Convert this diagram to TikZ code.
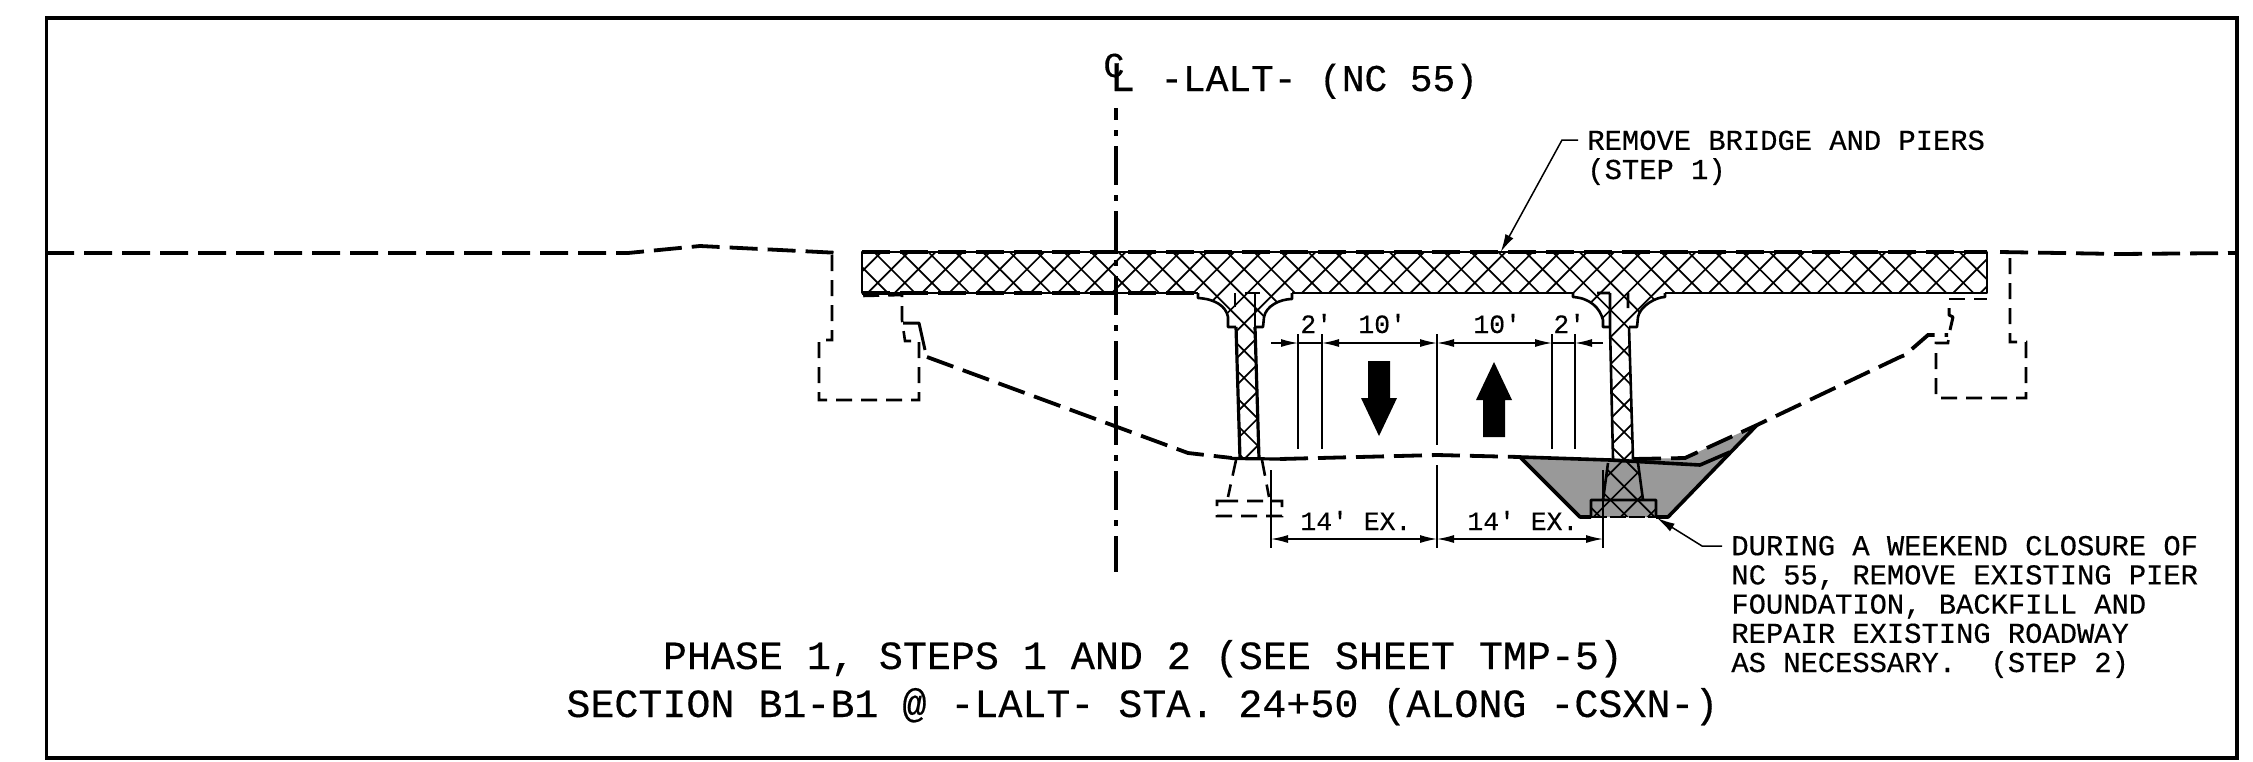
\documentclass[tikz,border=0pt]{standalone}
\usepackage{fontspec}
\setmainfont[RawFeature={embolden=0.4}]{Liberation Mono}
\usetikzlibrary{arrows.meta}
\definecolor{fillgray}{gray}{0.6}
\tikzset{
 px/.style={line width=#1*0.5pt},
 frameline/.style={px=3.5},
 outline/.style={px=2.6,line join=round},
 hatchline/.style={px=1.7},
 groundline/.style={px=3.8,dash pattern=on 14pt off 5pt},
 hiddenline/.style={px=2.6,dash pattern=on 8pt off 4.5pt},
 solidthick/.style={px=3.6,line join=round},
 dimline/.style={px=1.3,{Latex[length=8.5pt,width=4pt]}-{Latex[length=8.5pt,width=4pt]}},
 dimright/.style={px=1.3,-{Latex[length=8.5pt,width=4pt]}},
 extline/.style={px=1.6},
 leader/.style={px=1.5,-{Latex[length=9pt,width=4.5pt]}},
 center/.style={px=4,dash pattern=on 19.5pt off 5pt on 3pt off 5pt,dash phase=13.5pt},
 note/.style={font=\fontsize{14.4}{14.6}\selectfont,align=left,inner sep=0pt},
 dimtext/.style={font=\fontsize{13.2}{13.2}\selectfont,inner sep=0pt,anchor=base west},
 titletext/.style={font=\fontsize{20}{20}\selectfont,inner sep=0pt,anchor=base},
}
\begin{document}
\begin{tikzpicture}[x=0.5pt,y=-0.5pt]
\useasboundingbox (0,0) rectangle (2253,761);
% frame
\draw[frameline] (46.5,18) rectangle (2237,758);
% gray fill
\fill[fillgray] (1520,457) -- (1580,517) -- (1668,517) -- (1757,425) -- (1685,458) -- (1633,459) -- cycle;
% hatch
\begin{scope}
\clip (862,252) -- (1987,252) -- (1987,293) -- (862,293) -- cycle
 (1198,293) -- (1292,293) -- (1292,299) .. controls (1280,299) and (1266,306) .. (1264,317) -- (1263,327) -- (1255,327) -- (1259,459) -- (1240,459) -- (1236,327) -- (1228,327) -- (1228,317) .. controls (1226,306) and (1215,299) .. (1198,298) -- cycle
 (1573,293) -- (1665,293) -- (1665,297) .. controls (1656,297) and (1640,306) .. (1638,317) -- (1637,327) -- (1629,327) -- (1633,459) -- (1613,459) -- (1610,327) -- (1603,327) -- (1603,320) .. controls (1600,308) and (1590,298) .. (1573,297) -- cycle
 (1608,459) -- (1638,459) -- (1643,501) -- (1656,501) -- (1656,517) -- (1591,517) -- (1591,501) -- (1603,501) -- cycle;
\foreach \k in {-5,...,53}{
 \pgfmathsetmacro{\c}{1133.4+27.14*\k}
 \draw[hatchline] (\c-240,240) -- (\c-530,530);
}
\foreach \k in {-14,...,43}{
 \pgfmathsetmacro{\c}{622+27.14*\k}
 \draw[hatchline] (\c+240,240) -- (\c+530,530);
}
\end{scope}
% deck outline
\draw[outline] (1198,293) -- (862,293) -- (862,252) -- (1987,252) -- (1987,293) -- (1665,293) (1573,293) -- (1292,293);
\draw[px=3.4,dash pattern=on 14pt off 5pt] (862,252) -- (1987,252) (862,293) -- (1198,293);
% piers
\draw[outline] (1198,293) -- (1198,298) .. controls (1215,299) and (1226,306) .. (1228,317) -- (1228,327) -- (1236,327)
 (1292,293) -- (1292,299) .. controls (1280,299) and (1266,306) .. (1264,317) -- (1263,327) -- (1255,327);
\draw[outline] (1573,293) -- (1573,297) .. controls (1590,298) and (1600,308) .. (1603,320) -- (1603,327) -- (1610,327)
 (1665,293) -- (1665,297) .. controls (1656,297) and (1640,306) .. (1638,317) -- (1637,327) -- (1629,327);
\draw[outline] (1235,293) -- (1235,307) (1255,293) -- (1255,327) (1245,293) -- (1260,293);
\draw[solidthick,px=3.2] (1236,327) -- (1240,459) (1255,327) -- (1259,459);
\draw[solidthick,px=3.2] (1232,458.5) -- (1280,459);
\draw[outline] (1610,293) -- (1610,327) -- (1613,459) (1628,293) -- (1628,308) (1629,327) -- (1633,459) (1597,293) -- (1610,293);
\draw[outline] (1608,463) -- (1603,500) (1638,463) -- (1643,500) (1591,517) -- (1591,500) -- (1656,500) -- (1656,517);
\draw[px=1.8,dash pattern=on 8pt off 1.5pt] (1591,517) -- (1656,517);
% gray edges
\draw[solidthick] (1520,457) -- (1580,517) -- (1591,517) (1656,517) -- (1668,517) -- (1757,425);
\draw[solidthick] (1520,457) -- (1610,460) -- (1700,465) -- (1730,452);
% ground
\draw[groundline] (46,253) -- (628,253) -- (700,246) -- (840,253);
\draw[groundline] (2000,252) -- (2120,254) -- (2237,253);
\draw[groundline] (927,357) -- (1188,453) -- (1232,458);
\draw[groundline] (1280,459) -- (1437,455) -- (1520,457);
\draw[groundline] (1633,459) -- (1685,458) -- (1757,425) -- (1900,357) -- (1905,355) -- (1928,335) -- (1948,335);
% abutments and footings
\draw[hiddenline] (832,255) -- (832,340) -- (819,340) -- (819,400) -- (919,400) -- (919,341) -- (905,341) -- (902,320) -- (902,295) -- (862,296);
\draw[solidthick,px=3] (903,323) -- (919,323) -- (925,350);
\draw[hiddenline] (2010,258) -- (2010,342) -- (2026,342) -- (2026,398) -- (1936,398) -- (1936,343) -- (1948,343) -- (1949,335);
\draw[solidthick,px=3] (1950,330) -- (1953,317) -- (1949,315) -- (1949,308);
\draw[hiddenline] (1949,299) -- (1987,299);
\draw[hiddenline] (1236,460) -- (1228,497) (1262,460) -- (1269,497) (1228,501) -- (1217,501) -- (1217,516) -- (1282,516) -- (1282,501) -- (1228,501);
% centerline
\coordinate (clt) at (1116,108);
\coordinate (clb) at (1116,572);
\draw[center] (clt) -- (clb);
% extension lines
\foreach \n/\x/\a/\b in {e1/1298/334/449,e2/1322/334/449,e3/1437/334/445,e4/1552/334/449,e5/1575/334/449,e6/1271/470/548,e7/1437/465/548,e8/1603/470/548}{
 \coordinate (\n a) at (\x,\a);
 \coordinate (\n b) at (\x,\b);
 \draw[extline] (\n a) -- (\n b);
}
% dimensions
\coordinate (d0) at (1271,343);
\coordinate (d1) at (1298,343);
\coordinate (d2) at (1322,343);
\coordinate (d3) at (1437,343);
\coordinate (d4) at (1552,343);
\coordinate (d5) at (1575,343);
\coordinate (d6) at (1603,343);
\draw[dimright] (d0) -- (d1);
\draw[dimline] (d2) -- (d3);
\draw[dimline] (d3) -- (d4);
\draw[dimright] (d6) -- (d5);
\draw[px=1.3] (d1) -- (d2) (d4) -- (d5);
\coordinate (f0) at (1271,539);
\coordinate (f1) at (1437,539);
\coordinate (f2) at (1603,539);
\draw[dimline] (f0) -- (f1);
\draw[dimline] (f1) -- (f2);
% traffic arrows
\fill (1368,361) -- (1390,361) -- (1390,398) -- (1397,398) -- (1379,436) -- (1361,398) -- (1368,398) -- cycle;
\fill (1483,437) -- (1505,437) -- (1505,400) -- (1512,400) -- (1494,362) -- (1476,400) -- (1483,400) -- cycle;
% dim labels
\node[dimtext] (t1) at (1300,333) {2′};
\node[dimtext] (t2) at (1358,333) {10′};
\node[dimtext] (t3) at (1473,333) {10′};
\node[dimtext] (t4) at (1553,333) {2′};
\node[dimtext] (t5) at (1300,530) {14′ EX.};
\node[dimtext] (t6) at (1467,530) {14′ EX.};
% titles
\node[inner sep=0pt,anchor=base west,font=\fontsize{21}{21}\selectfont] (cl) at (1103,91) {\raisebox{7pt}{\fontsize{17.5}{17.5}\selectfont C}\kern-7.25pt L};
\node[titletext,anchor=base west,font=\fontsize{18.9}{19}\selectfont] (lalt) at (1160,91) {-LALT- (NC 55)};
\node[titletext] (ph) at (1143,669) {PHASE 1, STEPS 1 AND 2 (SEE SHEET TMP-5)};
\node[titletext] (sec) at (1142.5,717) {SECTION B1-B1 @ -LALT- STA. 24+50 (ALONG -CSXN-)};
% notes
\node[note,anchor=base west] (n1) at (1587,179) {REMOVE BRIDGE AND PIERS\\(STEP 1)};
\node[note,anchor=base west] (n2) at (1731,672) {DURING A WEEKEND CLOSURE OF\\NC 55, REMOVE EXISTING PIER\\FOUNDATION, BACKFILL AND\\REPAIR EXISTING ROADWAY\\AS NECESSARY.\ \ (STEP 2)};
% leaders
\coordinate (l1) at (1500.7,252);
\coordinate (l1m) at (1562,140);
\coordinate (l2) at (1657,518);
\coordinate (l2m) at (1702,546);
\draw[leader] (1578,140) -- (l1m) -- (l1);
\draw[leader] (1722,546) -- (l2m) -- (l2);
\end{tikzpicture}
\end{document}
